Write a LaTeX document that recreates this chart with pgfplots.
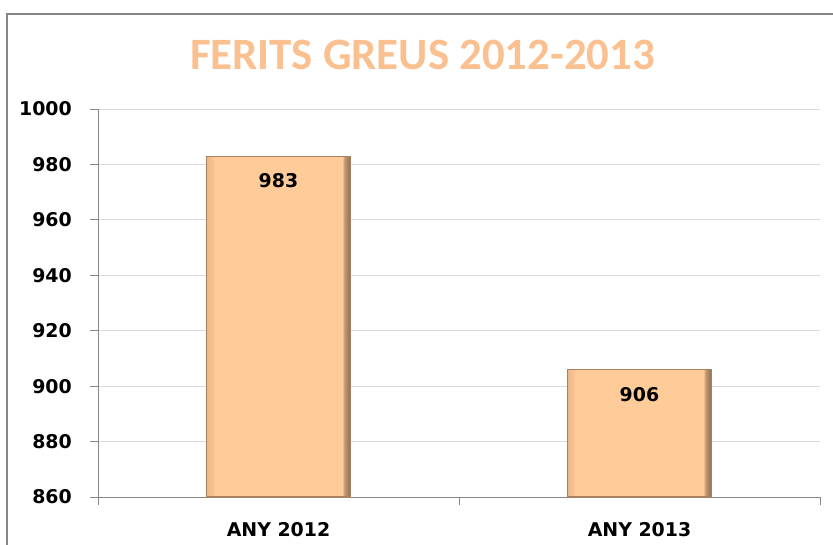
\documentclass[border=0pt]{standalone}
\usepackage{pgfplots}
\pgfplotsset{compat=1.18}
\usepackage{fontspec}
\setmainfont{DejaVu Sans}
\newfontfamily\titlefont{Carlito}
\definecolor{titleor}{HTML}{FAC090}
\definecolor{barfill}{HTML}{FFCB98}
\definecolor{bevleft}{HTML}{EDB785}
\definecolor{bevright}{HTML}{8E6C52}
\definecolor{barline}{HTML}{A98262}
\definecolor{axgray}{HTML}{868686}
\definecolor{gridgray}{HTML}{D9D9D9}
\pgfdeclarehorizontalshading{bevelh}{100bp}{color(0bp)=(bevleft); color(25bp)=(bevleft); color(27.2bp)=(bevleft!40!barfill); color(27.8bp)=(barfill); color(72.2bp)=(barfill); color(72.8bp)=(bevright!50!barfill); color(75bp)=(bevright); color(100bp)=(bevright)}
\begin{document}
\begin{tikzpicture}
\useasboundingbox (0,0) rectangle (833bp,-545bp);
\draw[axgray, line width=2bp] (7bp,-560bp) -- (7bp,-14bp) -- (845bp,-14bp);
\node[anchor=base, text=titleor, font=\titlefont\bfseries\fontsize{45}{45}\selectfont, inner sep=0pt] at (422.5bp,-69bp) {FERITS GREUS 2012-2013};
\begin{axis}[
  at={(98bp,-497bp)}, anchor=south west,
  scale only axis, width=722bp, height=388bp,
  xmin=-0.5, xmax=1.5, ymin=860, ymax=1000,
  ytick={860,880,...,1000},
  axis lines=left, axis line style={-, axgray, line width=1bp},
  ymajorgrids, grid style={gridgray, line width=0.8bp},
  tick align=outside, major tick length=8bp,
  tick style={axgray, line width=1bp},
  xtick={-0.5,0.5,1.5}, xticklabels={},
  extra x ticks={0,1}, extra x tick labels={ANY 2012, ANY 2013},
  extra x tick style={tick style={draw=none}, grid=none},
  /pgf/number format/assume math mode=true,
  /pgf/number format/1000 sep={},
  yticklabel style={font=\fontsize{19}{19}\selectfont\bfseries, inner sep=0pt, xshift=-18bp},
  xticklabel style={font=\fontsize{19}{19}\selectfont\bfseries, inner sep=0pt, yshift=-17bp},
  ybar, bar width=144bp, bar shift=0pt,
  nodes near coords,
  every node near coord/.append style={font=\fontsize{19}{19}\selectfont\bfseries, anchor=north, inner sep=0pt, yshift=-17bp, text=black},
]
\addplot[shading=bevelh, draw=barline, line width=1.2bp] coordinates {(0,983)};
\addplot[shading=bevelh, draw=barline, line width=1.2bp] coordinates {(1,906)};
\end{axis}
\end{tikzpicture}
\end{document}
